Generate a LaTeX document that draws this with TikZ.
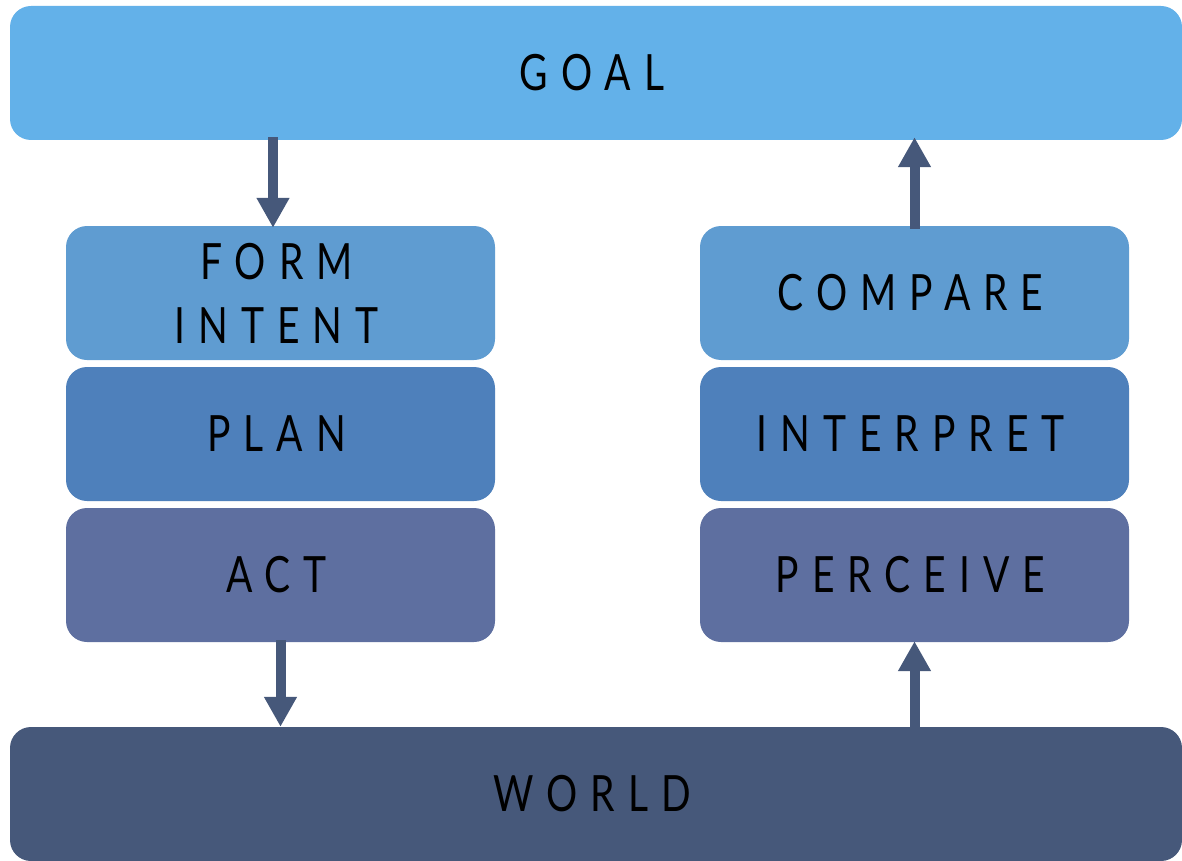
\documentclass[tikz,border=0pt]{standalone}
\usepackage{fontspec}
\setmainfont[FakeStretch=0.78,LetterSpace=26]{Lato}
\usetikzlibrary{arrows.meta}
\definecolor{cgoal}{HTML}{63B1E9}
\definecolor{cone}{HTML}{5F9CD1}
\definecolor{ctwo}{HTML}{4E80BB}
\definecolor{cthree}{HTML}{5E6FA0}
\definecolor{cworld}{HTML}{46587A}
\newcommand\lbl[1]{#1\kern8pt}
\tikzset{
  box/.style={rectangle, rounded corners=21pt, draw=none, inner sep=0pt, align=center,
    font=\fontsize{50}{64}\selectfont, text=black},
  wide/.style={box, minimum width=1172pt, minimum height=134pt},
  col/.style={box, minimum width=429pt, minimum height=134pt},
  flow/.style={draw=cworld, line width=10pt, -{Triangle[width=31pt,length=30pt]}}
}
\begin{document}
\begin{tikzpicture}[x=1pt,y=-1pt]
\useasboundingbox (0,0) rectangle (1182,861);
\node[wide, fill=cgoal] (goal) at (596,73) {\lbl{GOAL}};
\node[wide, fill=cworld] (world) at (596,794) {\lbl{WORLD}};
\node[col, fill=cone] (fi) at (280.5,293) {\lbl{FORM}\\\lbl{INTENT}};
\node[col, fill=ctwo] (plan) at (280.5,434) {\lbl{PLAN}};
\node[col, fill=cthree] (act) at (280.5,575) {\lbl{ACT}};
\node[col, fill=cone] (cmp) at (914.5,293) {\lbl{COMPARE}};
\node[col, fill=ctwo] (intp) at (914.5,434) {\lbl{INTERPRET}};
\node[col, fill=cthree] (perc) at (914.5,575) {\lbl{PERCEIVE}};
\draw[flow] ([xshift=-7.5pt,yshift=3pt]goal.south -| fi.north) -- ([xshift=-7.5pt,yshift=-2pt]fi.north);
\draw[flow] ([yshift=2pt]act.south) -- (world.north -| act.south);
\draw[flow] ([yshift=-3pt]cmp.north) -- ([yshift=3pt]goal.south -| cmp.north);
\draw[flow] (world.north -| perc.south) -- ([yshift=1pt]perc.south);
\end{tikzpicture}
\end{document}
